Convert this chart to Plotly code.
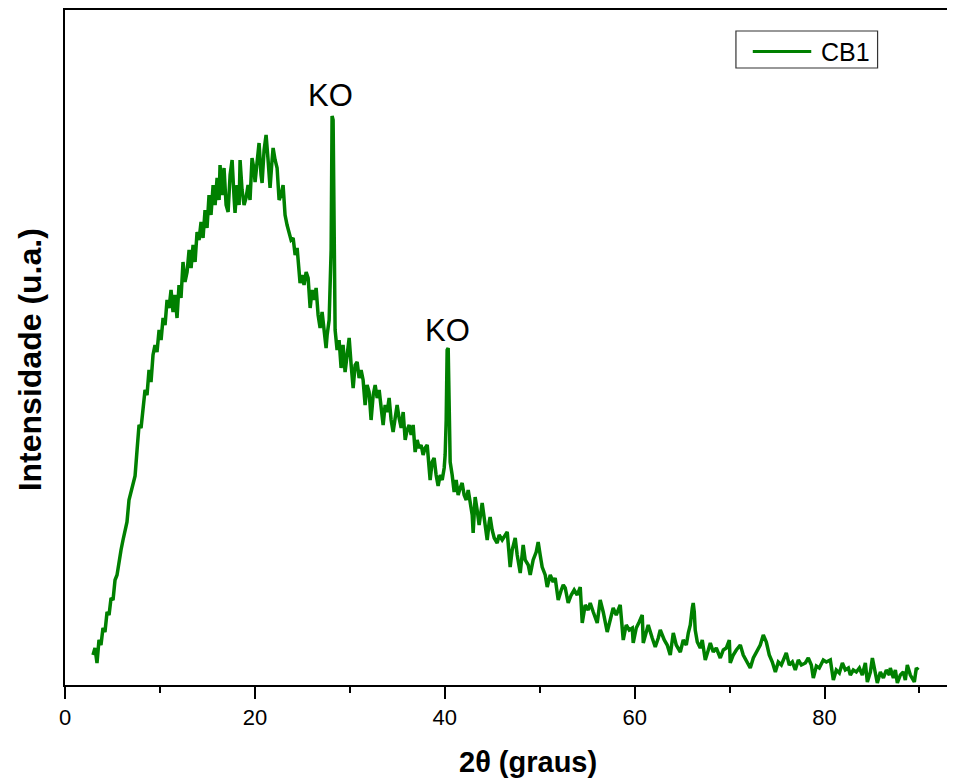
import plotly.graph_objects as go

two_theta = [2.95, 3.16, 3.37, 3.58, 3.79, 4.00, 4.21, 4.43, 4.64, 4.85, 5.06, 5.27, 5.48, 5.69, 5.90, 6.11, 6.32, 6.53, 6.74, 6.95,
             7.17, 7.38, 7.59, 7.80, 8.01, 8.22, 8.43, 8.64, 8.85, 9.06, 9.27, 9.48, 9.69, 9.91, 10.12, 10.33, 10.54, 10.75, 10.96, 11.17,
             11.38, 11.59, 11.80, 12.01, 12.22, 12.43, 12.64, 12.86, 13.07, 13.28, 13.49, 13.70, 13.91, 14.12, 14.33, 14.54, 14.75, 14.96, 15.17, 15.38,
             15.60, 15.81, 16.02, 16.23, 16.33, 16.54, 16.75, 16.97, 17.18, 17.39, 17.60, 17.81, 17.91, 18.12, 18.34, 18.44, 18.65, 18.86, 19.07, 19.28,
             19.49, 19.70, 19.92, 20.02, 20.23, 20.44, 20.65, 20.76, 20.97, 21.18, 21.39, 21.60, 21.81, 21.92, 22.13, 22.34, 22.55, 22.76, 22.97, 23.18,
             23.39, 23.60, 23.81, 24.03, 24.24, 24.45, 24.66, 24.76, 24.97, 25.18, 25.40, 25.61, 25.82, 26.03, 26.24, 26.45, 26.66, 26.87, 27.08, 27.29,
             27.50, 27.61, 27.82, 28.03, 28.13, 28.24, 28.35, 28.45, 28.66, 28.87, 29.08, 29.29, 29.50, 29.72, 29.93, 30.14, 30.35, 30.56, 30.77, 30.98,
             31.19, 31.40, 31.61, 31.82, 32.03, 32.24, 32.46, 32.67, 32.88, 33.09, 33.30, 33.51, 33.72, 33.93, 34.14, 34.35, 34.56, 34.77, 34.98, 35.19,
             35.41, 35.62, 35.83, 36.04, 36.25, 36.46, 36.67, 36.88, 37.09, 37.30, 37.51, 37.72, 37.93, 38.15, 38.36, 38.46, 38.67, 38.88, 39.09, 39.30,
             39.52, 39.73, 39.94, 40.04, 40.15, 40.25, 40.36, 40.46, 40.57, 40.78, 40.99, 41.20, 41.41, 41.62, 41.83, 42.04, 42.26, 42.47, 42.68, 42.89,
             42.99, 43.20, 43.41, 43.62, 43.94, 44.15, 44.47, 44.68, 44.78, 44.99, 45.21, 45.52, 45.73, 46.05, 46.36, 46.58, 46.89, 47.10, 47.42, 47.63,
             47.95, 48.26, 48.47, 48.79, 49.00, 49.31, 49.63, 49.84, 50.05, 50.26, 50.58, 50.79, 51.11, 51.42, 51.63, 51.95, 52.27, 52.48, 52.69, 53.00,
             53.32, 53.63, 53.95, 54.27, 54.48, 54.79, 55.11, 55.32, 55.64, 56.06, 56.37, 56.69, 57.11, 57.43, 57.74, 58.06, 58.48, 58.80, 59.11, 59.43,
             59.75, 59.85, 60.17, 60.48, 60.80, 60.91, 61.22, 61.43, 61.85, 62.17, 62.49, 62.70, 63.12, 63.43, 63.75, 64.07, 64.38, 64.81, 65.12, 65.44,
             65.65, 65.86, 66.07, 66.17, 66.28, 66.38, 66.60, 66.91, 67.12, 67.44, 67.76, 67.97, 68.28, 68.60, 69.02, 69.34, 69.65, 69.97, 70.07, 70.39,
             70.71, 71.13, 71.44, 71.76, 72.18, 72.50, 72.92, 73.23, 73.55, 73.87, 74.18, 74.50, 74.82, 75.13, 75.45, 75.76, 75.97, 76.29, 76.61, 76.92,
             77.24, 77.56, 77.98, 78.29, 78.61, 78.82, 79.14, 79.45, 79.87, 80.19, 80.61, 80.93, 81.24, 81.56, 81.88, 82.19, 82.51, 82.72, 83.03, 83.35,
             83.67, 83.98, 84.30, 84.51, 84.83, 85.04, 85.35, 85.56, 85.88, 86.20, 86.51, 86.83, 86.93, 87.25, 87.46, 87.67, 87.99, 88.30, 88.51, 88.72,
             89.04, 89.46, 89.67, 89.88]

intensity = [30, 37, 22, 45, 40, 57, 53, 73, 70, 87, 85, 105, 110, 125, 135, 145, 155, 163, 185, 193,
             203, 209, 235, 260, 257, 280, 295, 290, 315, 303, 330, 340, 333, 355, 345, 367, 360, 385, 377, 395,
             373, 390, 367, 400, 387, 423, 403, 413, 435, 417, 440, 423, 453, 445, 463, 447, 475, 457, 490, 470,
             500, 480, 507, 485, 520, 490, 517, 480, 473, 510, 525, 487, 472, 500, 480, 525, 495, 480, 487, 500,
             485, 527, 515, 503, 525, 542, 510, 502, 535, 550, 525, 497, 525, 537, 525, 517, 485, 490, 500, 470,
             460, 453, 445, 447, 430, 437, 415, 402, 410, 400, 413, 407, 377, 395, 385, 397, 370, 357, 373, 350,
             337, 350, 365, 435, 569, 565, 435, 355, 335, 345, 317, 340, 313, 335, 347, 320, 297, 320, 323, 307,
             315, 305, 280, 300, 293, 265, 290, 300, 287, 295, 275, 260, 280, 273, 287, 265, 253, 270, 280, 267,
             257, 273, 245, 255, 260, 250, 260, 233, 245, 237, 240, 230, 237, 240, 220, 205, 223, 227, 210, 199,
             210, 205, 217, 230, 265, 335, 337, 285, 223, 210, 193, 205, 190, 197, 202, 190, 185, 195, 180, 170,
             152, 188, 175, 160, 182, 165, 145, 163, 168, 155, 147, 142, 150, 145, 150, 153, 118, 135, 147, 130,
             112, 140, 125, 120, 110, 125, 133, 143, 130, 118, 110, 98, 110, 103, 107, 85, 95, 100, 97, 82,
             90, 95, 90, 98, 62, 80, 75, 82, 73, 62, 85, 73, 53, 67, 77, 70, 80, 45, 60, 55,
             57, 42, 57, 63, 70, 42, 55, 60, 47, 38, 47, 55, 45, 40, 30, 52, 40, 33, 45, 40,
             52, 60, 77, 82, 73, 55, 43, 37, 45, 25, 35, 42, 33, 37, 27, 35, 37, 45, 22, 30,
             35, 40, 30, 25, 17, 27, 35, 40, 50, 43, 30, 23, 13, 23, 20, 27, 32, 20, 23, 15,
             25, 20, 22, 27, 20, 7, 19, 17, 25, 23, 25, 5, 15, 12, 22, 15, 17, 10, 15, 13,
             17, 10, 22, 3, 13, 27, 10, 2, 13, 7, 15, 10, 17, 7, 15, 2, 10, 13, 5, 20,
             10, 3, 17, 15]

series_name = "CB1"
peak_labels = ["KO", "KO"]
peak_x = [27.92, 40.3]
peak_y = [590, 355]
x_ticks = [0, 20, 40, 60, 80]
x_minor_ticks = [10, 30, 50, 70, 90]

GREEN = "#008000"
FONT = "Arial, Liberation Sans, sans-serif"

fig = go.Figure()
fig.add_trace(go.Scatter(x=two_theta, y=intensity, mode="lines", name=series_name,
                         line=dict(color=GREEN, width=3.5), showlegend=False))

for lab, px, py in zip(peak_labels, peak_x, peak_y):
    fig.add_annotation(x=px, y=py, text=lab, showarrow=False, xref="x", yref="y",
                       font=dict(family=FONT, size=31, color="black"))

# legend box drawn by hand (long line sample as in the original)
fig.add_shape(type="rect", xref="paper", yref="paper", x0=0.7607, x1=0.9213, y0=0.9141, y1=0.9689,
              line=dict(color="#333333", width=1.2), fillcolor="white")
fig.add_shape(type="line", xref="paper", yref="paper", x0=0.7798, x1=0.8461, y0=0.9385, y1=0.9385,
              line=dict(color=GREEN, width=3))
fig.add_annotation(xref="paper", yref="paper", x=0.855, y=0.9385, text=series_name, showarrow=False,
                   xanchor="left", yanchor="middle", font=dict(family=FONT, size=25, color="black"))

# axis titles
fig.add_annotation(xref="paper", yref="paper", x=0.5247, y=-0.114, text="<b>2θ (graus)</b>", showarrow=False,
                   xanchor="center", yanchor="middle", font=dict(family=FONT, size=29, color="black"))
fig.add_annotation(xref="paper", yref="paper", x=-0.0393, y=0.4815, text="<b>Intensidade (u.a.)</b>", showarrow=False,
                   textangle=-90, xanchor="center", yanchor="middle", font=dict(family=FONT, size=32, color="black"))

fig.update_layout(
    width=939, height=776,
    margin=dict(l=57, r=0, t=2, b=99),
    plot_bgcolor="white", paper_bgcolor="white",
    font=dict(family=FONT, color="black"),
    xaxis=dict(range=[0, 92.9], tickvals=x_ticks, ticks="outside", ticklen=12, tickwidth=2, tickcolor="black",
               showline=True, linewidth=2, linecolor="black", mirror=True, showgrid=False, zeroline=False,
               tickfont=dict(family=FONT, size=22, color="black"),
               minor=dict(tickvals=x_minor_ticks, ticks="outside", ticklen=6, tickwidth=2, tickcolor="black", showgrid=False)),
    yaxis=dict(range=[0, 675], showticklabels=False, ticks="", showline=True, linewidth=2, linecolor="black",
               showgrid=False, zeroline=False),
)

fig.write_html("out.html")
